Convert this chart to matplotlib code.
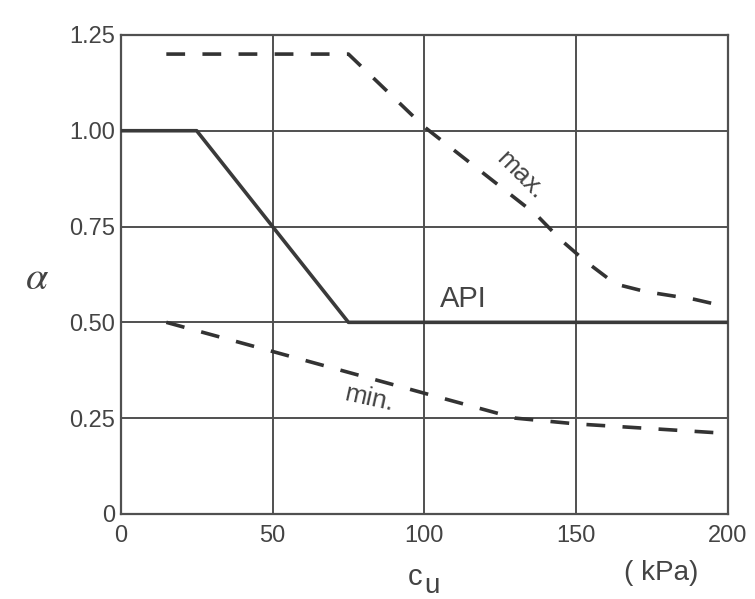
import matplotlib
matplotlib.use("Agg")
import matplotlib.pyplot as plt

plt.rcParams['font.family'] = ['Liberation Sans', 'DejaVu Sans']

# Data (c_u in kPa, alpha)
api_cu = [0, 25, 75, 200]
api_alpha = [1.0, 1.0, 0.5, 0.5]

max_cu = [15, 75, 100, 137, 145, 153, 163, 173, 189, 200]
max_alpha = [1.20, 1.20, 1.01, 0.78, 0.715, 0.66, 0.60, 0.58, 0.56, 0.54]

min_cu = [15, 50, 100, 130, 150, 200]
min_alpha = [0.50, 0.424, 0.315, 0.25, 0.235, 0.21]

x_ticks = [0, 50, 100, 150, 200]
y_ticks = [0, 0.25, 0.5, 0.75, 1.0, 1.25]
y_ticklabels = ["0", "0.25", "0.50", "0.75", "1.00", "1.25"]

fig = plt.figure(figsize=(7.55, 5.99), dpi=100)
ax = fig.add_axes([0.160, 0.142, 0.804, 0.7997])

ax.set_xlim(0, 200)
ax.set_ylim(0, 1.25)
ax.set_xticks(x_ticks)
ax.set_yticks(y_ticks)
ax.set_yticklabels(y_ticklabels)
ax.grid(True, color='#505050', lw=1.4)
ax.set_axisbelow(True)
for s in ax.spines.values():
    s.set_color('#505050')
    s.set_linewidth(1.6)
ax.tick_params(length=0, colors='#444444', labelsize=17)
ax.tick_params(axis='x', pad=8)
ax.tick_params(axis='y', pad=4)

ax.plot(api_cu, api_alpha, color='#3a3a3a', lw=2.6, solid_capstyle='butt', zorder=3)
ax.plot(max_cu, max_alpha, color='#333333', lw=2.6, dashes=(5.2, 4.8), zorder=3)
ax.plot(min_cu, min_alpha, color='#333333', lw=2.6, dashes=(5.2, 4.8), zorder=3)

ax.text(131.5, 0.885, "max.", rotation=-45, ha='center', va='center',
        fontsize=19, color='#444444', rotation_mode='anchor')
ax.text(81.7, 0.30, "min.", rotation=-12.5, ha='center', va='center',
        fontsize=19, color='#444444', rotation_mode='anchor')
ax.text(112.7, 0.56, "API", ha='center', va='center', fontsize=21, color='#444444')

ax.text(-0.138, 0.493, r"$\alpha$", transform=ax.transAxes, ha='center', va='center',
        fontsize=29, color='#444444', math_fontfamily='stix')
ax.text(0.484, -0.132, "c", transform=ax.transAxes, ha='center', va='center',
        fontsize=21, color='#444444')
ax.text(0.513, -0.150, "u", transform=ax.transAxes, ha='center', va='center',
        fontsize=20, color='#444444')
ax.text(0.891, -0.123, "( kPa)", transform=ax.transAxes, ha='center', va='center',
        fontsize=20, color='#444444')

fig.savefig("out.png", dpi=100, facecolor='white')
